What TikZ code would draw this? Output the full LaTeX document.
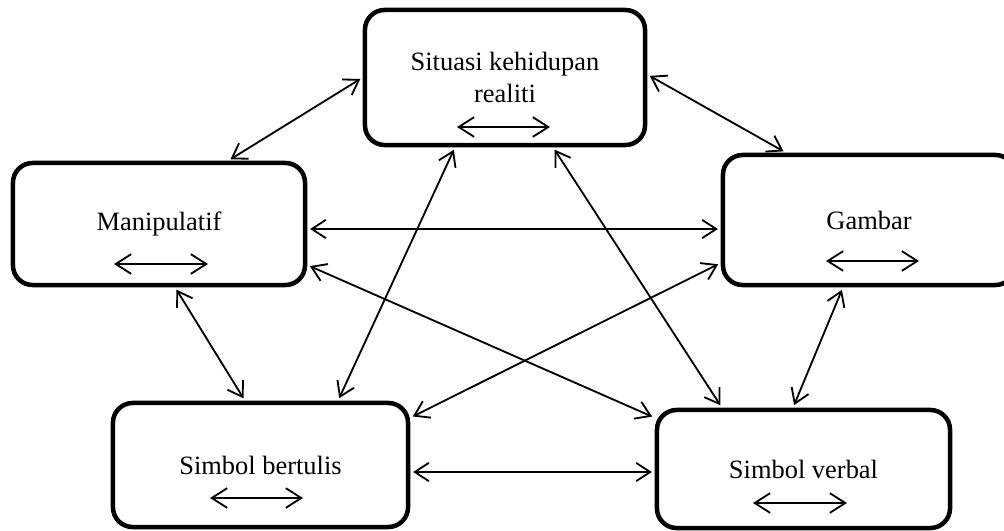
\documentclass[tikz,border=0pt]{standalone}
\usepackage{fontspec}
\setmainfont{Liberation Serif}
\usetikzlibrary{arrows.meta,calc}

\tikzset{
	box/.style={draw, line width=3.2pt, rounded corners=14pt, align=center, inner sep=0pt, font=\fontsize{18.8}{22.7}\selectfont},
	link/.style={line width=1.3pt, shorten >=2pt, shorten <=2pt, {Straight Barb[length=10pt,width=13pt]}-{Straight Barb[length=10pt,width=13pt]}},
	twoway/.style={line width=1.3pt, {Straight Barb[length=11pt,width=14pt]}-{Straight Barb[length=11pt,width=14pt]}}
}

\begin{document}
\begin{tikzpicture}[x=0.025cm, y=-0.025cm]
	\useasboundingbox (0,0) rectangle (1004,531);
	\node[box, minimum width=7cm, minimum height=3.375cm] (sit) at (505,77.5) {Situasi kehidupan\\realiti};
	\node[box, minimum width=7.3cm, minimum height=3.05cm] (man) at (159,224) {Manipulatif};
	\node[box, minimum width=7.3cm, minimum height=3.25cm] (gam) at (869,220) {Gambar};
	\node[box, minimum width=7.375cm, minimum height=3.1cm] (ber) at (260.5,465) {Simbol bertulis};
	\node[box, minimum width=7.325cm, minimum height=2.95cm] (ver) at (803.5,469) {Simbol verbal};

	\draw[twoway] ($(sit.center)+(-48,49.5)$) -- ++(93,0);
	\draw[twoway] ($(man.center)+(-45,40)$) -- ++(94,0);
	\draw[twoway] ($(gam.center)+(-43,41)$) -- ++(93,0);
	\draw[twoway] ($(ber.center)+(-50.5,33)$) -- ++(93,0);
	\draw[twoway] ($(ver.center)+(-50.5,34)$) -- ++(94,0);

	\draw[link] (sit.west) -- ($(man.north west)!0.733!(man.north east)$);
	\draw[link] ($(sit.east)+(0,-3)$) -- ($(gam.north)+(-83,0)$);
	\draw[link] ($(man.east)+(0,5)$) -- ($(gam.west)+(0,9)$);
	\draw[link] ($(man.east)+(0,41)$) -- ($(ver.north west)+(0,10)$);
	\draw[link] ($(gam.west)+(0,43)$) -- ($(ber.north east)+(0,17)$);
	\draw[link] ($(sit.south)+(-50,0)$) -- ($(ber.north)+(77.5,0)$);
	\draw[link] ($(sit.south)+(48,0)$) -- ($(ver.north)+(-81.5,0)$);
	\draw[link] ($(man.south)+(16,0)$) -- ($(ber.north)+(-15.5,0)$);
	\draw[link] ($(gam.south)+(-26,0)$) -- ($(ver.north)+(-10.5,0)$);
	\draw[link] ($(ber.east)+(0,7)$) -- ($(ver.west)+(0,3)$);
\end{tikzpicture}
\end{document}
